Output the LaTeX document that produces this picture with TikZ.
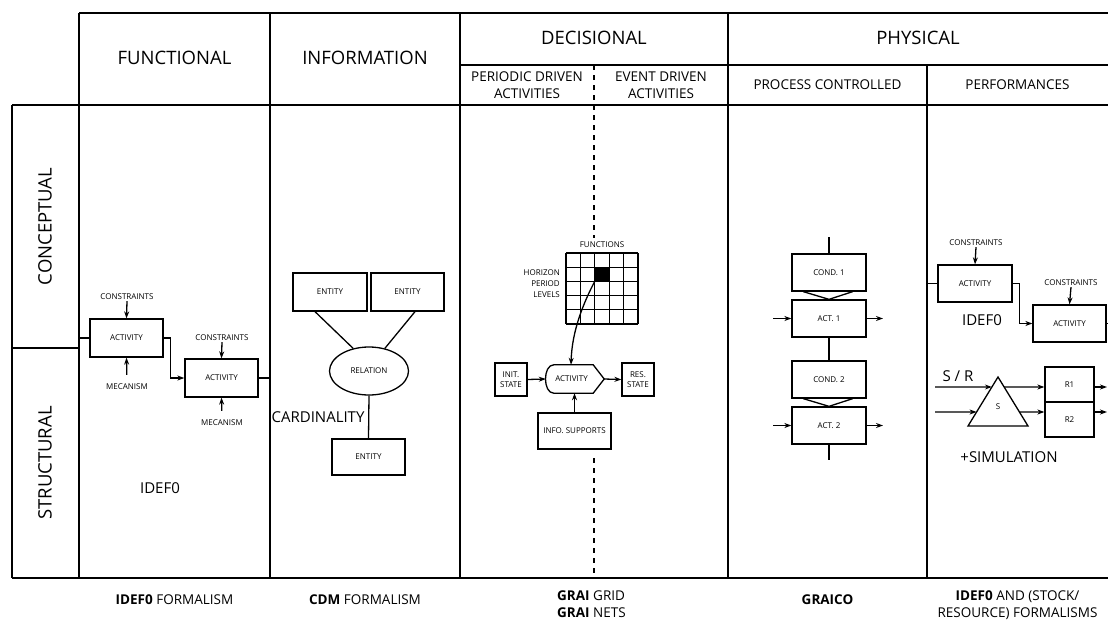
\documentclass[tikz,border=0pt]{standalone}
\usepackage{fontspec}
\setmainfont{Open Sans}
\usetikzlibrary{arrows.meta,calc,shapes.geometric}
\newcommand\fsz[2]{\fontsize{#1}{#2}\selectfont}
\begin{document}
\begin{tikzpicture}[x=1pt,y=-1pt,
  tbl/.style={line width=1.6pt},
  bx/.style={draw, line width=1.3pt, inner sep=0pt, font=\fsz{8}{9.5}},
  lbl/.style={font=\fsz{8}{10.5}, inner sep=1pt},
  arr/.style={line width=1.3pt, -{Stealth[length=7pt,width=5pt]}},
  ln/.style={line width=1.3pt},
  head/.style={font=\fsz{18.5}{22}, inner sep=0pt},
  subhead/.style={font=\fsz{13.5}{16.5}, align=center, inner sep=0pt},
  mid/.style={font=\fsz{15}{17}, inner sep=0pt},
  foot/.style={font=\fsz{13.5}{17}, align=center, inner sep=0pt},
  dash line/.style={tbl, dash pattern=on 5pt off 5pt}]
\useasboundingbox (0,0) rectangle (1108,632);
\fill[white] (0,0) rectangle (1108,632);
\clip (0,0) rectangle (1108,632);

% ---------- table frame ----------
\draw[tbl] (79,13) -- (1110,13);
\draw[tbl] (460,65) -- (1110,65);
\draw[tbl] (12,105) -- (1110,105);
\draw[tbl] (12,578) -- (1110,578);
\draw[tbl] (12,105) -- (12,578);
\foreach \x in {79,270,460,728} \draw[tbl] (\x,13) -- (\x,578);
\draw[tbl] (927,65) -- (927,578);
\draw[line width=2.4pt] (12,348) -- (79,348);
\draw[dash line] (594,65) -- (594,238);
\draw[dash line] (594,458) -- (594,578);

% ---------- headers ----------
\node[head] (hfun) at (174.5,58) {FUNCTIONAL};
\node[head] (hinf) at (365,58) {INFORMATION};
\node[head] (hdec) at (594,38) {DECISIONAL};
\node[head] (hphy) at (918,38) {PHYSICAL};
\node[subhead] (hper) at (527,85) {PERIODIC DRIVEN\\ACTIVITIES};
\node[subhead] (hevt) at (661,85) {EVENT DRIVEN\\ACTIVITIES};
\node[subhead] (hpro) at (827.5,85) {PROCESS CONTROLLED};
\node[subhead] (hprf) at (1017.5,85) {PERFORMANCES};
\node[head, rotate=90] (hcon) at (45,226.5) {CONCEPTUAL};
\node[head, rotate=90] (hstr) at (45,463) {STRUCTURAL};

% ---------- functional: IDEF0 ----------
\node[bx, minimum width=73pt, minimum height=38pt] (fa1) at (126.5,338) {ACTIVITY};
\node[bx, minimum width=73pt, minimum height=38pt] (fa2) at (221.5,378) {ACTIVITY};
\node[lbl] (fc1) at (127,297) {CONSTRAINTS};
\node[lbl] (fm1) at (127,387) {MECANISM};
\node[lbl] (fc2) at (222,338) {CONSTRAINTS};
\node[lbl] (fm2) at (222,423) {MECANISM};
\coordinate (fin) at (79,338);
\coordinate (fout) at (270,378);
\draw[arr] (fc1.south) -- (fa1.north);
\draw[arr, shorten <=8pt] (fm1.north) -- (fa1.south);
\draw[arr] (fc2.south) -- (fa2.north);
\draw[arr, shorten <=8pt] (fm2.north) -- (fa2.south);
\draw[ln] (fin) -- (fa1.west);
\draw[arr] (fa1.east) -- ++(7,0) |- (fa2.west);
\draw[ln] (fa2.east) -- (fout);
\node[mid] (fidef) at (160,488) {IDEF0};

% ---------- information: CDM ----------
\node[bx, minimum width=74pt, minimum height=38pt] (ie1) at (330,292) {ENTITY};
\node[bx, minimum width=73pt, minimum height=38pt] (ie2) at (407.5,292) {ENTITY};
\node[bx, ellipse, minimum width=79pt, minimum height=48pt] (irel) at (369,371) {RELATION};
\node[bx, minimum width=73pt, minimum height=36pt] (ie3) at (368.5,457) {ENTITY};
\draw[ln] ([xshift=-15pt]ie1.south) -- (irel.125);
\draw[ln] ([xshift=7.5pt]ie2.south) -- (irel.55);
\draw[ln] (irel.south) -- (ie3.north);
\node[mid] (icard) at (318,417) {CARDINALITY};

% ---------- decisional: GRAI grid and net ----------
\node[lbl] (dfun) at (602,245) {FUNCTIONS};
\node[lbl, align=right, anchor=east, font=\fsz{8}{11}] (dhor) at (561,284) {HORIZON\\PERIOD\\LEVELS};
\foreach \i in {0,...,5} {
  \draw[line width=1.2pt] ({566+\i*14.4},253) -- ({566+\i*14.4},324);
  \draw[line width=1.2pt] (566,{253+\i*14.2}) -- (638,{253+\i*14.2});
}
\node[fill=black, minimum width=14.4pt, minimum height=14.2pt, inner sep=0pt] (dcell) at (602,274.3) {};
\node[font=\fsz{8}{9.5}, minimum width=58pt, minimum height=28pt, inner sep=0pt] (dact) at (575,379) {\hspace*{-7pt}ACTIVITY};
\draw[ln] ([xshift=8pt]dact.north west) -- ([xshift=-11pt]dact.north east) -- (dact.east)
  -- ([xshift=-11pt]dact.south east) -- ([xshift=8pt]dact.south west)
  to[out=180,in=180] ([xshift=8pt]dact.north west) -- cycle;
\node[bx, align=center, minimum width=32pt, minimum height=33pt] (dinit) at (511,379.5) {INIT.\\STATE};
\node[bx, align=center, minimum width=32pt, minimum height=33pt] (dres) at (638,379.5) {RES.\\STATE};
\node[bx, minimum width=73pt, minimum height=36pt] (dinfo) at (574.5,431) {INFO. SUPPORTS};
\draw[arr] (dcell.south west) .. controls (584,302) and (572,330) .. ([xshift=-4pt]dact.north);
\draw[arr] (dinit.east) -- (dact.west);
\draw[arr] (dact.east) -- (dres.west);
\draw[arr] (dinfo.north) -- (dact.south -| dinfo.north);

% ---------- physical: GRAICO ----------
\node[bx, minimum width=74pt, minimum height=37pt] (pc1) at (829,272.5) {COND. 1};
\node[bx, minimum width=74pt, minimum height=37pt] (pa1) at (829,318.5) {ACT. 1};
\node[bx, minimum width=74pt, minimum height=37pt] (pc2) at (829,379.5) {COND. 2};
\node[bx, minimum width=74pt, minimum height=37pt] (pa2) at (829,425.5) {ACT. 2};
\coordinate (ptop) at (829,237);
\coordinate (pbot) at (829,460);
\draw[ln] (ptop) -- (pc1.north);
\draw[ln] (pa1.south) -- (pc2.north);
\draw[ln] (pa2.south) -- (pbot);
\draw[ln] ([xshift=12pt]pc1.south west) -- (pa1.north) -- ([xshift=-14pt]pc1.south east);
\draw[ln] ([xshift=12pt]pc2.south west) -- (pa2.north) -- ([xshift=-14pt]pc2.south east);
\coordinate (pi1) at (773,318.5);
\coordinate (po1) at (883,318.5);
\coordinate (pi2) at (773,425.5);
\coordinate (po2) at (883,425.5);
\draw[arr] (pi1) -- (pa1.west);
\draw[arr] (pa1.east) -- (po1);
\draw[arr] (pi2) -- (pa2.west);
\draw[arr] (pa2.east) -- (po2);

% ---------- physical: performances ----------
\node[bx, minimum width=74pt, minimum height=37pt] (qa1) at (975,283.5) {ACTIVITY};
\node[bx, minimum width=73pt, minimum height=37pt] (qa2) at (1069.5,323.5) {ACTIVITY};
\node[lbl] (qc1) at (976,243) {CONSTRAINTS};
\node[lbl] (qc2) at (1071,283) {CONSTRAINTS};
\coordinate (qin) at (927,283.5);
\coordinate (qout) at (1112,323.5);
\draw[ln] (qin) -- (qa1.west);
\draw[arr] (qc1.south) -- (qa1.north);
\draw[arr] (qc2.south) -- (qa2.north);
\draw[arr] (qa1.east) -- ++(7,0) |- (qa2.west);
\draw[ln] (qa2.east) -- (qout);
\node[mid] (qidef) at (982,320) {IDEF0};

\node[mid] (qsr) at (958,376) {S / R};
\coordinate (tA) at (998,377);
\coordinate (tL) at (968,426);
\coordinate (tR) at (1028,426);
\draw[ln] (tA) -- (tL) -- (tR) -- cycle;
\node[lbl] (tS) at (998,407) {S};
\node[bx, minimum width=49pt, minimum height=35pt] (qr1) at (1069.5,384.5) {R1};
\node[bx, minimum width=49pt, minimum height=35pt] (qr2) at (1069.5,419.5) {R2};
\coordinate (si1) at (935,387);
\coordinate (si2) at (935,412);
\coordinate (so1) at (1107,387);
\coordinate (so2) at (1107,412);
\draw[arr] (si1) -- ($(tA)!0.204!(tL)$);
\draw[arr] (si2) -- ($(tA)!0.714!(tL)$);
\draw[arr] ($(tA)!0.204!(tR)$) -- (qr1.west |- si1);
\draw[arr] ($(tA)!0.714!(tR)$) -- (qr2.west |- si2);
\draw[arr] (qr1.east |- si1) -- (so1);
\draw[arr] (qr2.east |- si2) -- (so2);
\node[mid] (qsim) at (1009,457) {+SIMULATION};

% ---------- formalisms ----------
\node[foot] (ffun) at (174.5,600) {\textbf{IDEF0} FORMALISM};
\node[foot] (finf) at (365,600) {\textbf{CDM} FORMALISM};
\node[foot, align=left, anchor=north west] (fdec) at (557,591) {\textbf{GRAI} GRID\\\textbf{GRAI} NETS};
\node[foot] (fpro) at (827.5,600) {\textbf{GRAICO}};
\node[foot, anchor=north] (fprf) at (1017.5,591) {\textbf{IDEF0} AND (STOCK/\\RESOURCE) FORMALISMS};
\end{tikzpicture}
\end{document}
